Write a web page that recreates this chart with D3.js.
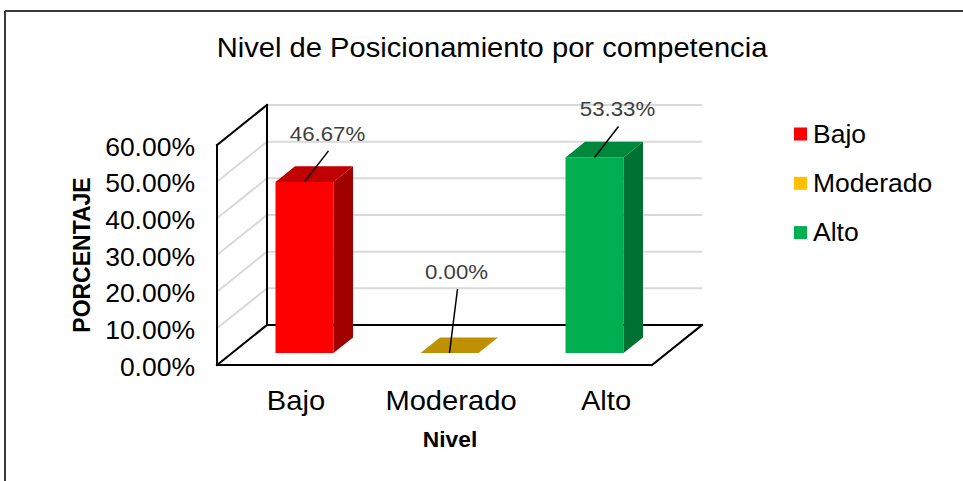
<!DOCTYPE html>
<html>
<head>
<meta charset="utf-8">
<script src="https://cdn.jsdelivr.net/npm/d3@7"></script>
<style>
  body { margin: 0; background: #fff; }
  text { font-family: "Liberation Sans", Arial, sans-serif; }
</style>
</head>
<body>
<div id="chart"></div>
<script>
// data
var categories = ['Bajo', 'Moderado', 'Alto'];
var values = [46.67, 0, 53.33];
var yTicks = [0, 10, 20, 30, 40, 50, 60];

// colours per category: front, top, side
var frontColors = ['#FF0000', '#FFC000', '#00B050'];
var topColors = ['#C00000', '#BF9000', '#00883D'];
var sideColors = ['#A00000', '#8F6C00', '#007033'];

var width = 963, height = 481;
var SX = 1.06; // text in the picture is a bit wide

var svg = d3.select('#chart').append('svg')
  .attr('width', width)
  .attr('height', height);

// frame (only top and left are visible)
svg.append('line').attr('x1', 5).attr('y1', 11).attr('x2', width).attr('y2', 11)
  .attr('stroke', '#3a3a3a').attr('stroke-width', 2);
svg.append('line').attr('x1', 5).attr('y1', 11).attr('x2', 5).attr('y2', height)
  .attr('stroke', '#3a3a3a').attr('stroke-width', 2);

function wide(sel, x, y) {
  return sel.attr('transform', 'translate(' + x + ',' + y + ') scale(' + SX + ',1)');
}

// title
wide(svg.append('text'), 492, 57)
  .attr('text-anchor', 'middle')
  .style('font-size', '27.5px')
  .text('Nivel de Posicionamiento por competencia');

// scales (front plane), depth goes up-right
var y = d3.scaleLinear().domain([0, 60]).range([365, 145]);
var x = d3.scaleBand().domain(categories).range([217, 652])
  .paddingInner(0.6).paddingOuter(0.3);
var depthX = d3.scaleLinear().domain([0, 1]).range([0, 50]);
var depthY = d3.scaleLinear().domain([0, 1]).range([0, -40]);
var left = x.range()[0], right = x.range()[1];

// gridlines on back wall and left wall
var grid = svg.append('g');
yTicks.filter(function(t) { return t > 0; }).forEach(function(t) {
  grid.append('line')
    .attr('x1', left + depthX(1)).attr('x2', right + depthX(1))
    .attr('y1', y(t) + depthY(1)).attr('y2', y(t) + depthY(1))
    .attr('stroke', '#D9D9D9').attr('stroke-width', 2);
  grid.append('line')
    .attr('x1', left).attr('x2', left + depthX(1))
    .attr('y1', y(t)).attr('y2', y(t) + depthY(1))
    .attr('stroke', '#D9D9D9').attr('stroke-width', 2);
});

// walls / floor outline
var yMax = y(60), yZero = y(0);
var bx = depthX(1), by = depthY(1);
var frame = [
  [[left, yZero], [left, yMax]],
  [[left, yMax], [left + bx, yMax + by]],
  [[left + bx, yMax + by], [left + bx, yZero + by]],
  [[left, yZero], [left + bx, yZero + by]],
  [[left + bx, yZero + by], [right + bx, yZero + by]],
  [[left, yZero], [right, yZero]],
  [[right, yZero], [right + bx, yZero + by]]
];
svg.append('g').selectAll('path')
  .data(frame)
  .enter()
  .append('path')
  .attr('d', function(d) { return d3.line()(d); })
  .attr('stroke', '#000')
  .attr('stroke-width', 2)
  .attr('stroke-linecap', 'square')
  .attr('fill', 'none');

// bars
var z0 = 0.3, z1 = 0.69;
var bw = x.bandwidth();
var bars = svg.append('g').selectAll('g')
  .data(values)
  .enter()
  .append('g');

function geo(d, i) {
  var x0 = x(categories[i]) + depthX(z0);
  return {
    x0: x0, x1: x0 + bw,
    yt: y(d) + depthY(z0), yb: y(0) + depthY(z0),
    ddx: depthX(z1 - z0), ddy: depthY(z1 - z0)
  };
}

bars.append('rect')
  .attr('x', function(d, i) { return geo(d, i).x0; })
  .attr('y', function(d, i) { return geo(d, i).yt; })
  .attr('width', bw)
  .attr('height', function(d, i) { var g = geo(d, i); return g.yb - g.yt; })
  .attr('fill', function(d, i) { return frontColors[i]; });

bars.append('polygon')
  .attr('points', function(d, i) {
    var g = geo(d, i);
    return [[g.x1, g.yt], [g.x1 + g.ddx, g.yt + g.ddy], [g.x1 + g.ddx, g.yb + g.ddy], [g.x1, g.yb]].join(' ');
  })
  .attr('fill', function(d, i) { return sideColors[i]; });

bars.append('polygon')
  .attr('points', function(d, i) {
    var g = geo(d, i);
    return [[g.x0, g.yt], [g.x1, g.yt], [g.x1 + g.ddx, g.yt + g.ddy], [g.x0 + g.ddx, g.yt + g.ddy]].join(' ');
  })
  .attr('fill', function(d, i) { return topColors[i]; });

// data labels with leader lines
function labelPos(d, i) {
  var g = geo(d, i);
  var cx = (g.x0 + g.x1) / 2;
  if (d === 0) return { px: cx, py: g.yt, lx: cx + 7, ly: g.yt - 74 };
  return { px: cx, py: g.yt, lx: cx + 23, ly: g.yt - 41 };
}

bars.append('line')
  .attr('x1', function(d, i) { return labelPos(d, i).px; })
  .attr('y1', function(d, i) { return labelPos(d, i).py; })
  .attr('x2', function(d, i) { return labelPos(d, i).lx + 1; })
  .attr('y2', function(d, i) { return labelPos(d, i).ly + 10; })
  .attr('stroke', '#000')
  .attr('stroke-width', 1.5);

bars.append('text')
  .each(function(d, i) {
    var p = labelPos(d, i);
    wide(d3.select(this), p.lx, p.ly);
  })
  .attr('text-anchor', 'middle')
  .style('font-size', '21px')
  .attr('fill', '#404040')
  .text(function(d) { return d.toFixed(2) + '%'; });

// y axis
var yAxis = d3.axisLeft(y)
  .tickValues(yTicks)
  .tickSize(0)
  .tickFormat(function(d) { return d.toFixed(2) + '%'; });

var yAxisGroup = svg.append('g')
  .attr('transform', 'translate(195,0)')
  .call(yAxis);
yAxisGroup.select('.domain').remove();
yAxisGroup.selectAll('text')
  .attr('x', 0)
  .attr('dy', '0.4em')
  .attr('transform', 'scale(' + SX + ',1)')
  .attr('fill', '#000')
  .style('font-size', '25px')
  .style('font-family', '"Liberation Sans", Arial, sans-serif');

// category labels
var xLabel = d3.scalePoint().domain(categories).range([296, 606]);
svg.append('g').selectAll('text')
  .data(categories)
  .enter()
  .append('text')
  .each(function(d) { wide(d3.select(this), xLabel(d), 410); })
  .attr('text-anchor', 'middle')
  .style('font-size', '27.5px')
  .text(function(d) { return d; });

// axis titles
wide(svg.append('text'), 450, 447)
  .attr('text-anchor', 'middle')
  .style('font-size', '21.5px')
  .style('font-weight', 'bold')
  .text('Nivel');

svg.append('text')
  .attr('transform', 'translate(90,255) scale(' + SX + ',1) rotate(-90)')
  .attr('text-anchor', 'middle')
  .style('font-size', '23px')
  .style('font-weight', 'bold')
  .text('PORCENTAJE');

// legend
var legend = svg.append('g').selectAll('g')
  .data(categories)
  .enter()
  .append('g')
  .attr('transform', function(d, i) { return 'translate(794,' + (127.5 + i * 49.3) + ')'; });

legend.append('rect')
  .attr('width', 13)
  .attr('height', 13)
  .attr('fill', function(d, i) { return frontColors[i]; });

legend.append('text')
  .each(function() { wide(d3.select(this), 19, 15); })
  .style('font-size', '25px')
  .text(function(d) { return d; });
</script>
</body>
</html>
